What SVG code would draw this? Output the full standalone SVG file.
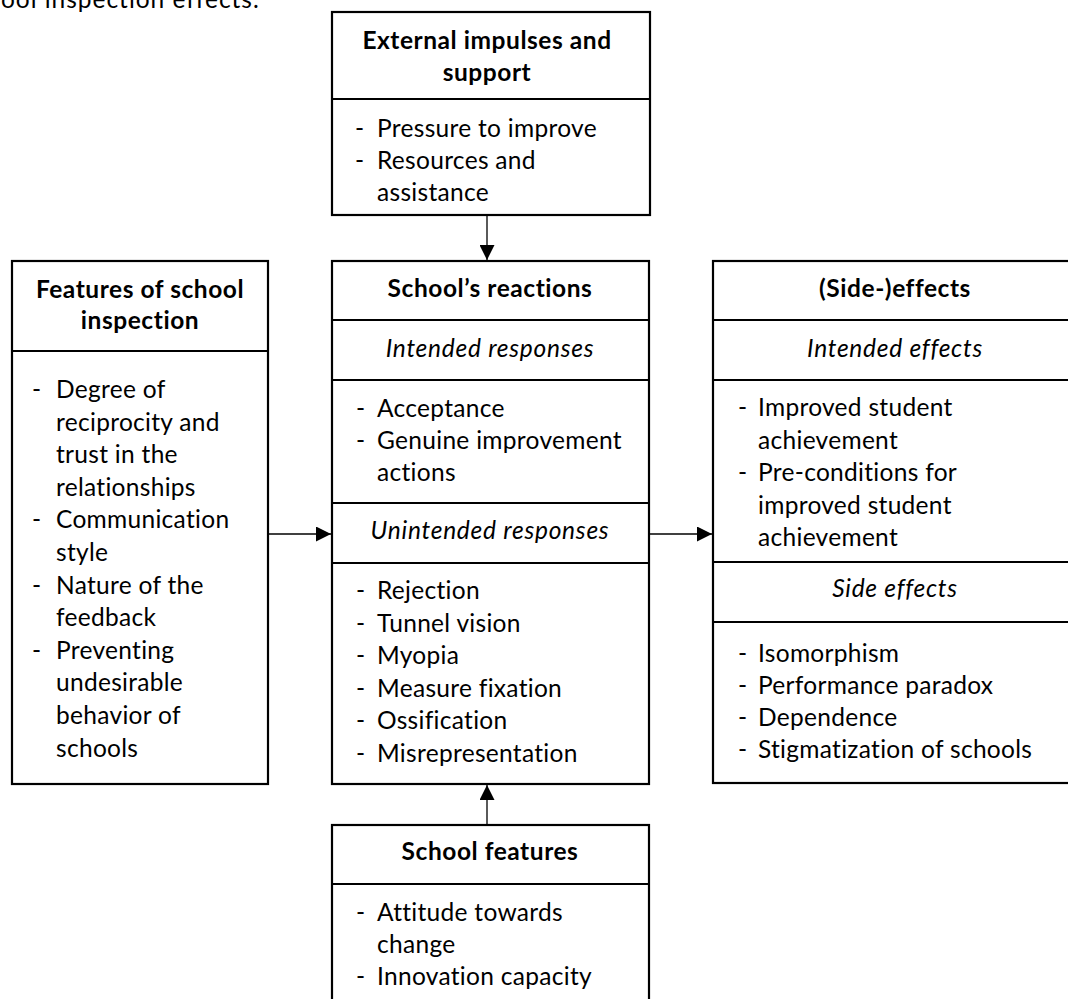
<svg xmlns="http://www.w3.org/2000/svg" width="1068" height="999" viewBox="0 0 1068 999">
<style>
text{font-family:Lato,"Open Sans","Liberation Sans",sans-serif;font-size:24.5px;letter-spacing:0.3px;fill:#000}
.t{font-weight:bold;text-anchor:middle;letter-spacing:0.55px}
.i{font-style:italic;text-anchor:middle;letter-spacing:0.75px}
.box{fill:#fff;stroke:#000;stroke-width:2.2}
.div{stroke:#000;stroke-width:2.2}
.con{stroke:#000;stroke-width:1.3;fill:none}
</style>
<defs>
<marker id="ah" markerWidth="15" markerHeight="15" refX="15" refY="7.5" orient="auto" markerUnits="userSpaceOnUse">
<path d="M0,0 L15,7.5 L0,15 Z" fill="#000"/>
</marker>
</defs>
<rect width="1068" height="999" fill="#fff"/>
<text x="1" y="8" textLength="258" lengthAdjust="spacing">ool inspection effects.</text>

<g id="external">
<rect class="box" x="332" y="12" width="318" height="203"/>
<line class="div" x1="332" y1="99" x2="650" y2="99"/>
<text class="t" x="487" y="49">External impulses and</text>
<text class="t" x="487" y="81">support</text>
<text x="355" y="137">-</text><text x="377" y="137">Pressure to improve</text>
<text x="355" y="169">-</text><text x="377" y="169">Resources and</text>
<text x="377" y="201">assistance</text>
</g>

<g id="inspection">
<rect class="box" x="12" y="261" width="256" height="523"/>
<line class="div" x1="12" y1="351" x2="268" y2="351"/>
<text class="t" x="140" y="298">Features of school</text>
<text class="t" x="140" y="329">inspection</text>
<text x="32" y="398">-</text><text x="56" y="398">Degree of</text>
<text x="56" y="431">reciprocity and</text>
<text x="56" y="463">trust in the</text>
<text x="56" y="496">relationships</text>
<text x="32" y="528">-</text><text x="56" y="528">Communication</text>
<text x="56" y="561">style</text>
<text x="32" y="594">-</text><text x="56" y="594">Nature of the</text>
<text x="56" y="626">feedback</text>
<text x="32" y="659">-</text><text x="56" y="659">Preventing</text>
<text x="56" y="691">undesirable</text>
<text x="56" y="724">behavior of</text>
<text x="56" y="757">schools</text>
</g>

<g id="reactions">
<rect class="box" x="332" y="261" width="317" height="523"/>
<line class="div" x1="332" y1="320" x2="649" y2="320"/>
<line class="div" x1="332" y1="380" x2="649" y2="380"/>
<line class="div" x1="332" y1="503" x2="649" y2="503"/>
<line class="div" x1="332" y1="563" x2="649" y2="563"/>
<text class="t" x="490" y="297">School’s reactions</text>
<text class="i" x="490" y="357">Intended responses</text>
<text x="356" y="417">-</text><text x="377" y="417">Acceptance</text>
<text x="356" y="449">-</text><text x="377" y="449">Genuine improvement</text>
<text x="377" y="481">actions</text>
<text class="i" x="490" y="539">Unintended responses</text>
<text x="356" y="599">-</text><text x="377" y="599">Rejection</text>
<text x="356" y="632">-</text><text x="377" y="632">Tunnel vision</text>
<text x="356" y="664">-</text><text x="377" y="664">Myopia</text>
<text x="356" y="697">-</text><text x="377" y="697">Measure fixation</text>
<text x="356" y="729">-</text><text x="377" y="729">Ossification</text>
<text x="356" y="762">-</text><text x="377" y="762">Misrepresentation</text>
</g>

<g id="effects">
<rect class="box" x="713" y="261" width="365" height="522"/>
<line class="div" x1="713" y1="320" x2="1078" y2="320"/>
<line class="div" x1="713" y1="380" x2="1078" y2="380"/>
<line class="div" x1="713" y1="562" x2="1078" y2="562"/>
<line class="div" x1="713" y1="622" x2="1078" y2="622"/>
<text class="t" x="895" y="297">(Side-)effects</text>
<text class="i" x="895" y="357">Intended effects</text>
<text x="738" y="416">-</text><text x="758" y="416">Improved student</text>
<text x="758" y="449">achievement</text>
<text x="738" y="481">-</text><text x="758" y="481">Pre-conditions for</text>
<text x="758" y="514">improved student</text>
<text x="758" y="546">achievement</text>
<text class="i" x="895" y="597">Side effects</text>
<text x="738" y="662">-</text><text x="758" y="662">Isomorphism</text>
<text x="738" y="694">-</text><text x="758" y="694">Performance paradox</text>
<text x="738" y="726">-</text><text x="758" y="726">Dependence</text>
<text x="738" y="758">-</text><text x="758" y="758">Stigmatization of schools</text>
</g>

<g id="schoolfeatures">
<rect class="box" x="332" y="825" width="317" height="190"/>
<line class="div" x1="332" y1="884" x2="649" y2="884"/>
<text class="t" x="490" y="860">School features</text>
<text x="356" y="921">-</text><text x="377" y="921">Attitude towards</text>
<text x="377" y="953">change</text>
<text x="356" y="985">-</text><text x="377" y="985">Innovation capacity</text>
</g>

<g id="connectors">
<line class="con" x1="487" y1="215" x2="487" y2="260" marker-end="url(#ah)"/>
<line class="con" x1="268" y1="534" x2="331" y2="534" marker-end="url(#ah)"/>
<line class="con" x1="649" y1="534" x2="712" y2="534" marker-end="url(#ah)"/>
<line class="con" x1="487" y1="825" x2="487" y2="785" marker-end="url(#ah)"/>
</g>
</svg>
